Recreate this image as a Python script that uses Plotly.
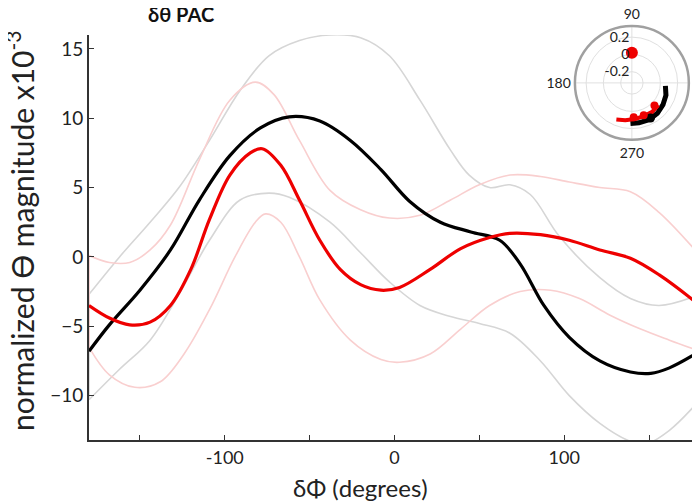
import plotly.graph_objects as go

# ---------------- data (delta-Phi in degrees, magnitude x1e-3) ----------------
black_x = [-180, -168, -150, -132, -115, -97, -79, -62, -44, -26, -8, 9, 27, 45, 62, 74, 88, 103, 121, 139, 151, 162, 180]
black_y = [-6.8, -4.9, -2.4, 0.5, 4.1, 7.3, 9.3, 10.1, 9.8, 8.4, 6.3, 4.0, 2.5, 1.8, 1.2, -0.5, -3.5, -5.8, -7.5, -8.3, -8.4, -8.0, -6.8]

red_x = [-180, -168, -156, -144, -132, -120, -109, -97, -85, -78, -67, -56, -44, -32, -20, -8, 3, 21, 39, 56, 68, 86, 103, 121, 139, 156, 180]
red_y = [-3.5, -4.4, -4.9, -4.7, -3.5, -0.9, 2.7, 5.9, 7.5, 7.8, 6.6, 4.1, 1.2, -0.9, -2.0, -2.4, -2.2, -0.9, 0.6, 1.4, 1.7, 1.6, 1.2, 0.5, -0.1, -1.3, -3.5]

red_up_x = [-180, -168, -156, -144, -132, -115, -97, -82, -71, -56, -38, -20, -3, 15, 33, 50, 68, 86, 103, 121, 139, 156, 180]
red_up_y = [0.1, -0.4, -0.4, 0.5, 2.3, 7.0, 11.3, 12.6, 11.7, 8.4, 4.8, 3.4, 2.8, 3.0, 4.1, 5.2, 5.9, 5.8, 5.4, 5.0, 4.7, 3.2, 0.1]

red_lo_x = [-180, -168, -153, -138, -124, -109, -94, -82, -76, -67, -56, -44, -26, -8, 3, 21, 39, 56, 74, 92, 109, 127, 145, 162, 180]
red_lo_y = [-6.5, -8.5, -9.4, -9.0, -7.0, -3.8, 0.0, 2.5, 3.1, 2.5, 0.0, -3.1, -6.0, -7.4, -7.6, -7.0, -5.2, -3.5, -2.5, -2.4, -3.0, -4.2, -5.2, -6.0, -6.8]

gray_up_x = [-180, -162, -144, -127, -109, -91, -74, -56, -38, -20, -3, 15, 33, 44, 56, 68, 80, 97, 121, 139, 156, 180]
gray_up_y = [-2.7, 0.0, 2.5, 5.0, 8.4, 12.0, 14.5, 15.6, 16.0, 15.8, 14.5, 11.3, 7.7, 5.9, 5.0, 5.2, 4.5, 1.5, -1.5, -3.0, -3.5, -2.7]

gray_lo_x = [-180, -162, -144, -127, -109, -91, -74, -62, -38, -20, -3, 15, 33, 50, 68, 86, 103, 121, 139, 148, 162, 180]
gray_lo_y = [-10.3, -8.1, -6.0, -2.7, 1.2, 4.1, 4.6, 4.3, 2.5, 0.3, -1.8, -3.5, -4.3, -4.8, -5.5, -7.5, -10.0, -12.0, -13.3, -13.5, -12.5, -10.3]

x_tick_vals = [-150, -100, -50, 0, 50, 100, 150]
x_tick_text = ["", "-100", "", "0", "", "100", ""]
y_tick_vals = [-10, -5, 0, 5, 10, 15]

# polar inset
pol_black_theta = [355, 340, 325, 310, 295, 280, 268]
pol_black_r = [0.06, 0.09, 0.11, 0.13, 0.14, 0.14, 0.14]
pol_red_theta = [320, 305, 290, 275, 260, 247]
pol_red_r = [0.07, 0.08, 0.08, 0.09, 0.11, 0.13]
pol_red_dots_theta = [273, 290, 315]
pol_red_dots_r = [0.07, 0.07, 0.04]
pol_black_dot_theta = [298]
pol_black_dot_r = [0.13]
pol_red_mean_theta = [90]
pol_red_mean_r = [0.02]

FONT = "Lato"
GRAY = "#d6d6d6"
PINK = "#f9cfcf"

fig = go.Figure()
# band outlines, closed at the left edge
for up_x, up_y, lo_x, lo_y, c in [(gray_up_x, gray_up_y, gray_lo_x, gray_lo_y, GRAY),
                                  (red_up_x, red_up_y, red_lo_x, red_lo_y, PINK)]:
    fig.add_trace(go.Scatter(x=[up_x[0], lo_x[0]], y=[up_y[0], lo_y[0]], mode="lines",
                             line=dict(color=c, width=1.6), showlegend=False, hoverinfo="skip"))
    for xs, ys in [(up_x, up_y), (lo_x, lo_y)]:
        fig.add_trace(go.Scatter(x=xs, y=ys, mode="lines", line=dict(color=c, width=1.6, shape="spline", smoothing=1.0),
                                 showlegend=False, hoverinfo="skip"))
fig.add_trace(go.Scatter(x=black_x, y=black_y, mode="lines", line=dict(color="black", width=3.2, shape="spline", smoothing=1.0), showlegend=False))
fig.add_trace(go.Scatter(x=red_x, y=red_y, mode="lines", line=dict(color="#ee0000", width=3.2, shape="spline", smoothing=1.0), showlegend=False))

# polar traces
fig.add_trace(go.Scatterpolar(theta=pol_black_theta, r=pol_black_r, mode="lines", line=dict(color="black", width=5), subplot="polar", showlegend=False))
fig.add_trace(go.Scatterpolar(theta=pol_red_theta, r=pol_red_r, mode="lines", line=dict(color="#ee0000", width=4), subplot="polar", showlegend=False))
fig.add_trace(go.Scatterpolar(theta=pol_black_dot_theta, r=pol_black_dot_r, mode="markers", marker=dict(color="black", size=9), subplot="polar", showlegend=False))
fig.add_trace(go.Scatterpolar(theta=pol_red_dots_theta, r=pol_red_dots_r, mode="markers", marker=dict(color="#ee0000", size=8), subplot="polar", showlegend=False))
fig.add_trace(go.Scatterpolar(theta=pol_red_mean_theta, r=pol_red_mean_r, mode="markers", marker=dict(color="#ee0000", size=12), subplot="polar", showlegend=False))

# the page adds an 8px body margin, so the figure is 8px smaller and shifted
fig.update_layout(
    width=692, height=494,
    margin=dict(l=81, r=0, t=2, b=62),
    paper_bgcolor="white", plot_bgcolor="white",
    font=dict(family=FONT, color="#222"),
    xaxis=dict(range=[-180, 180], tickvals=x_tick_vals, ticktext=x_tick_text, ticks="inside", ticklen=5,
               tickwidth=1, tickcolor="#333", showline=True, linecolor="#333", linewidth=2,
               showgrid=False, zeroline=False, tickfont=dict(size=18, family=FONT, color="#222")),
    yaxis=dict(range=[-13.2, 16], tickvals=y_tick_vals, ticks="inside", ticklen=5, tickwidth=1,
               tickcolor="#333", showline=True, linecolor="#333", linewidth=2, showgrid=False,
               zeroline=False, domain=[0, 0.9419], tickfont=dict(size=19, family=FONT, color="#222")),
    polar=dict(
        domain=dict(x=[0.795, 0.982], y=[0.698, 0.963]),
        bgcolor="white",
        angularaxis=dict(tickvals=[0, 90, 180, 270], ticktext=["0", "90", "180", "270"], showgrid=True,
                         gridcolor="#e0e0e0", showline=True, linecolor="#a0a0a0", linewidth=2.5, ticks="",
                         tickfont=dict(size=14, family=FONT, color="#222"), direction="counterclockwise", rotation=0),
        radialaxis=dict(range=[-0.33, 0.33], tickvals=[-0.2, 0, 0.2], ticktext=["-0.2", "0", "0.2"], angle=90,
                        tickangle=90, side="counterclockwise", showline=False, gridcolor="#e0e0e0", ticks="",
                        tickfont=dict(size=14, family=FONT, color="#222")),
    ),
    annotations=[
        dict(text="<b>δθ PAC</b>", x=(181 - 89) / 611, y=(440 - 14) / 430, xref="paper", yref="paper", showarrow=False,
             font=dict(size=20, family=FONT, color="#111"), xanchor="center", yanchor="middle"),
        dict(text="normalized ϴ magnitude x10<sup>-3</sup>", x=(20 - 89) / 611, y=(440 - 231) / 430, xref="paper", yref="paper",
             showarrow=False, textangle=-90, font=dict(size=30, family=FONT, color="#222"),
             xanchor="center", yanchor="middle"),
        dict(text="δΦ (degrees)", x=(360 - 89) / 611, y=(440 - 487) / 430, xref="paper", yref="paper", showarrow=False,
             font=dict(size=24, family=FONT, color="#222"), xanchor="center", yanchor="middle"),
    ],
)

fig.write_html("out.html")
